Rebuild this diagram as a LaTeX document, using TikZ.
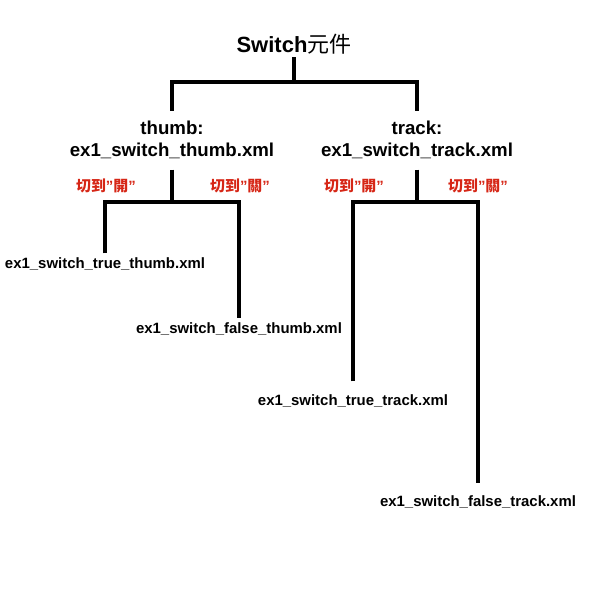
\documentclass[tikz,border=0pt]{standalone}
\usepackage{fontspec}
\setmainfont{Liberation Sans}
\newfontfamily\cjk{Noto Sans CJK TC}
\definecolor{labelred}{RGB}{214,38,22}

\begin{document}
\begin{tikzpicture}[x=0.75pt, y=-0.75pt,
    every node/.style={align=center, inner sep=2pt},
    branch/.style={line width=2.6pt, line join=miter},
    rootbox/.style={font=\bfseries\fontsize{16.5}{20}\selectfont},
    partbox/.style={font=\bfseries\fontsize{14}{17}\selectfont, inner ysep=7.5pt},
    leafbox/.style={font=\bfseries\fontsize{11.2}{13}\selectfont, inner sep=3pt},
    turnlabel/.style={text=labelred, font=\bfseries\fontsize{11.2}{13}\selectfont}]
    \useasboundingbox (0,0) rectangle (594,600);

    \node[rootbox] (root) at (294,44) {Switch{\mdseries\cjk 元件}};
    \node[partbox] (thumb) at (172,140) {thumb:\\ex1\_switch\_thumb.xml};
    \node[partbox] (track) at (417,140) {track:\\ex1\_switch\_track.xml};

    \node[leafbox] (truethumb) at (105,264) {ex1\_switch\_true\_thumb.xml};
    \node[leafbox] (falsethumb) at (239,329) {ex1\_switch\_false\_thumb.xml};
    \node[leafbox] (truetrack) at (353,401) {ex1\_switch\_true\_track.xml};
    \node[leafbox] (falsetrack) at (478,502) {ex1\_switch\_false\_track.xml};

    \node[turnlabel] (thumbon) at (106,186) {{\cjk 切到}”{\cjk 開}”};
    \node[turnlabel] (thumboff) at (240,186) {{\cjk 切到}”{\cjk 關}”};
    \node[turnlabel] (trackon) at (354,186) {{\cjk 切到}”{\cjk 開}”};
    \node[turnlabel] (trackoff) at (478,186) {{\cjk 切到}”{\cjk 關}”};

    \coordinate (rootjoin) at (294,82);
    \coordinate (thumbjoin) at (172,202);
    \coordinate (trackjoin) at (417,202);

    \draw[branch] (root.south) -- (rootjoin);
    \draw[branch] (thumb.north) |- (rootjoin) -| (track.north);

    \draw[branch] (thumb.south) -- (thumbjoin);
    \draw[branch] (truethumb.north) |- (thumbjoin) -| (falsethumb.north);

    \draw[branch] (track.south) -- (trackjoin);
    \draw[branch, shorten <=6.75pt, shorten >=6pt] (truetrack.north) |- (trackjoin) -| (falsetrack.north);
\end{tikzpicture}
\end{document}
